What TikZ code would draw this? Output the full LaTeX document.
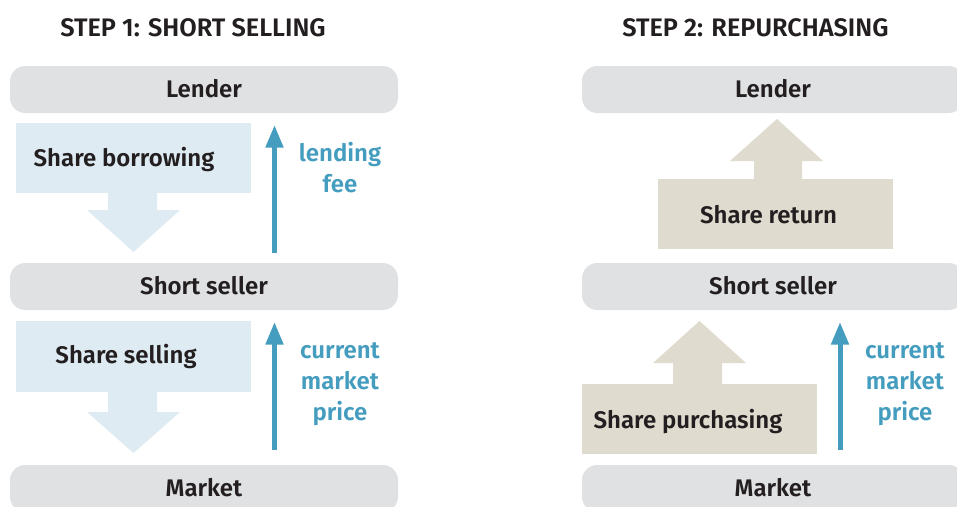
\documentclass[tikz,border=0pt]{standalone}
\usepackage{fontspec}
\setmainfont{Fira Sans}[BoldFont={Fira Sans SemiBold}]
\usetikzlibrary{arrows.meta}
\definecolor{bargray}{HTML}{E0E1E3}
\definecolor{lightblue}{HTML}{DFEBF2}
\definecolor{beige}{HTML}{E0DBCF}
\definecolor{accent}{HTML}{449DBE}
\definecolor{ink}{HTML}{231F20}
\tikzset{
  base font/.style={font=\fontsize{18}{23.25}\selectfont\bfseries},
  bar/.style={base font, text=ink, fill=bargray, rounded corners=11.5pt, inner sep=0pt,
    minimum width=291pt, minimum height=35.25pt, text height=12.4pt, text depth=0pt},
  lbl/.style={base font, text=ink, inner sep=0pt, anchor=base},
  title/.style={lbl, font=\fontsize{19}{23}\selectfont\bfseries, anchor=base west},
  price/.style={base font, text=accent, inner sep=0pt, align=center, anchor=base},
  box/.style={inner sep=0pt, draw=none},
  flow/.style={accent, line width=3.75pt, -{Triangle[length=17pt, width=12.75pt]}},
}
\begin{document}
\begin{tikzpicture}[x=0.75pt, y=-0.75pt]
\clip (0,0) rectangle (957,507);
\fill[white] (0,0) rectangle (957,507);

% titles
\node[title] (t1) at (60,36) {STEP 1: SHORT SELLING};
\node[title] (t2) at (622,36) {STEP 2: REPURCHASING};

% ---------- left panel ----------
\node[bar] (lenderA) at (204,89.5) {Lender};
\node[bar] (sellerA) at (204,286.5) {Short seller};
\node[bar] (marketA) at (204,488.5) {Market};

\node[box, fill=lightblue, minimum width=176.25pt, minimum height=52.5pt] (borrow) at (133.5,158) {};
\fill[lightblue] (108,192) -- (108,210) -- (87,210) -- (133.5,252) -- (180,210) -- (157,210) -- (157,192) -- cycle;
\node[lbl] (borrowtxt) at (124,166) {Share borrowing};

\node[box, fill=lightblue, minimum width=176.25pt, minimum height=53.25pt] (sell) at (133.5,356.5) {};
\fill[lightblue] (108,391) -- (108,412) -- (87,412) -- (133.5,453) -- (180,412) -- (157,412) -- (157,391) -- cycle;
\node[lbl] (selltxt) at (126,363) {Share selling};

\coordinate (feeS) at (274.5,253);
\coordinate (feeE) at (274.5,125);
\draw[flow] (feeS) -- (feeE);
\node[price] (fee) at (340,192) {lending\\fee};

\coordinate (priceAS) at (274.5,450);
\coordinate (priceAE) at (274.5,322);
\draw[flow] (priceAS) -- (priceAE);
\node[price] (priceA) at (340,420) {current\\market\\price};

% ---------- right panel ----------
\node[bar, minimum width=286.5pt] (lenderB) at (773,89.5) {Lender};
\node[bar, minimum width=286.5pt] (sellerB) at (773,286.5) {Short seller};
\node[bar, minimum width=286.5pt] (marketB) at (773,488.5) {Market};

\node[box, fill=beige, minimum width=176.25pt, minimum height=52.5pt] (return) at (775.5,214) {};
\fill[beige] (754,181) -- (754,161) -- (730,161) -- (777,119) -- (823,161) -- (802,161) -- (802,181) -- cycle;
\node[lbl] (returntxt) at (768.5,223) {Share return};

\node[box, fill=beige, minimum width=176.25pt, minimum height=52.5pt] (purchase) at (699.5,419) {};
\fill[beige] (673,385) -- (673,363) -- (653,363) -- (699.5,321) -- (746,363) -- (722,363) -- (722,385) -- cycle;
\node[lbl] (purchasetxt) at (688,428) {Share purchasing};

\coordinate (priceBS) at (840,450);
\coordinate (priceBE) at (840,322);
\draw[flow] (priceBS) -- (priceBE);
\node[price] (priceB) at (905,420) {current\\market\\price};
\end{tikzpicture}
\end{document}
